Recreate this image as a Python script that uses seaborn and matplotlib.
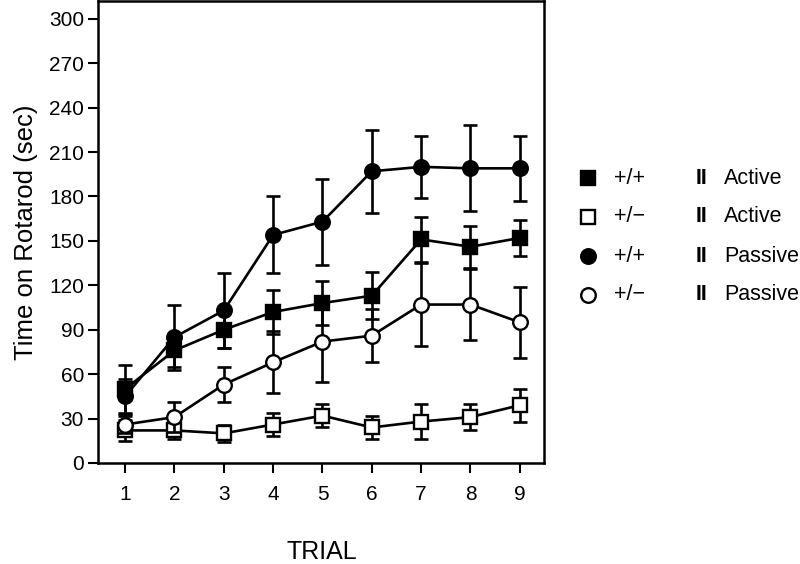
import matplotlib
matplotlib.use("Agg")
import matplotlib.pyplot as plt
import seaborn as sns
import pandas as pd
from matplotlib.lines import Line2D

trials = [1, 2, 3, 4, 5, 6, 7, 8, 9]

wt_active = [50, 76, 90, 102, 108, 113, 151, 146, 152]
wt_active_err = [16, 11, 12, 15, 15, 16, 15, 14, 12]

het_active = [22, 22, 20, 26, 32, 24, 28, 31, 39]
het_active_err = [7, 6, 6, 8, 8, 8, 12, 9, 11]

wt_passive = [45, 85, 103, 154, 163, 197, 200, 199, 199]
wt_passive_err = [12, 22, 25, 26, 29, 28, 21, 29, 22]

het_passive = [26, 31, 53, 68, 82, 86, 107, 107, 95]
het_passive_err = [6, 10, 12, 21, 27, 18, 28, 24, 24]

genotypes = ["+/+", "+/\u2212", "+/+", "+/\u2212"]
conditions = ["Active", "Active", "Passive", "Passive"]

sns.set_style("ticks")
plt.rcParams["font.family"] = ["Liberation Sans", "DejaVu Sans"]
plt.rcParams["text.color"] = "black"
plt.rcParams["axes.labelcolor"] = "black"

fig = plt.figure(figsize=(8.0, 5.64), dpi=100)
ax = fig.add_axes([98 / 800, 1 - 463 / 564, (544 - 98) / 800, (463 - 1) / 564])

series = [
    (het_active, het_active_err, "s", "white", 1),
    (het_passive, het_passive_err, "o", "white", 2),
    (wt_active, wt_active_err, "s", "black", 3),
    (wt_passive, wt_passive_err, "o", "black", 4),
]

for vals, errs, mk, fc, z in series:
    ax.errorbar(trials, vals, yerr=errs, fmt="none", ecolor="black",
                elinewidth=1.9, capsize=5, capthick=1.9, zorder=z)
    df = pd.DataFrame({"trial": trials, "value": vals})
    sns.lineplot(data=df, x="trial", y="value", ax=ax, color="black",
                 linewidth=1.9, marker=mk, markersize=10.5,
                 markerfacecolor=fc, markeredgecolor="black",
                 markeredgewidth=1.7, zorder=z + 0.5)

ax.set_xlim(0.45, 9.49)
ax.set_ylim(0, 312)
ax.set_xticks(trials)
ax.set_yticks(range(0, 301, 30))
ax.tick_params(axis="both", direction="out", length=7, width=1.5,
               labelsize=15, colors="black", labelcolor="black", pad=3)
ax.tick_params(axis="x", pad=9)
for s in ax.spines.values():
    s.set_linewidth(1.8)
    s.set_color("black")
    s.set_visible(True)

ax.set_xlabel("")
ax.set_ylabel("Time on Rotarod (sec)", fontsize=18.5, labelpad=8,
              color="black")
fig.text(322 / 800, 1 - 552 / 564, "TRIAL", fontsize=18,
         ha="center", va="center", color="black")

markers = ["s", "s", "o", "o"]
fills = ["black", "white", "black", "white"]
rows_y = [178, 217, 256, 295]
for mk, fc, g, c, y in zip(markers, fills, genotypes, conditions, rows_y):
    yf = 1 - y / 564
    fig.add_artist(Line2D([588 / 800], [yf], marker=mk, markersize=10.5,
                          markerfacecolor=fc, markeredgecolor="black",
                          markeredgewidth=1.7, linestyle="none",
                          transform=fig.transFigure))
    fig.text(614 / 800, yf, g, fontsize=15.5, ha="left", va="center")
    fig.text(696 / 800, yf, "II", fontsize=15.5, fontweight="bold",
             ha="left", va="center")
    fig.text(724 / 800, yf, c, fontsize=15.5, ha="left", va="center")

fig.savefig("out.png", dpi=100)
